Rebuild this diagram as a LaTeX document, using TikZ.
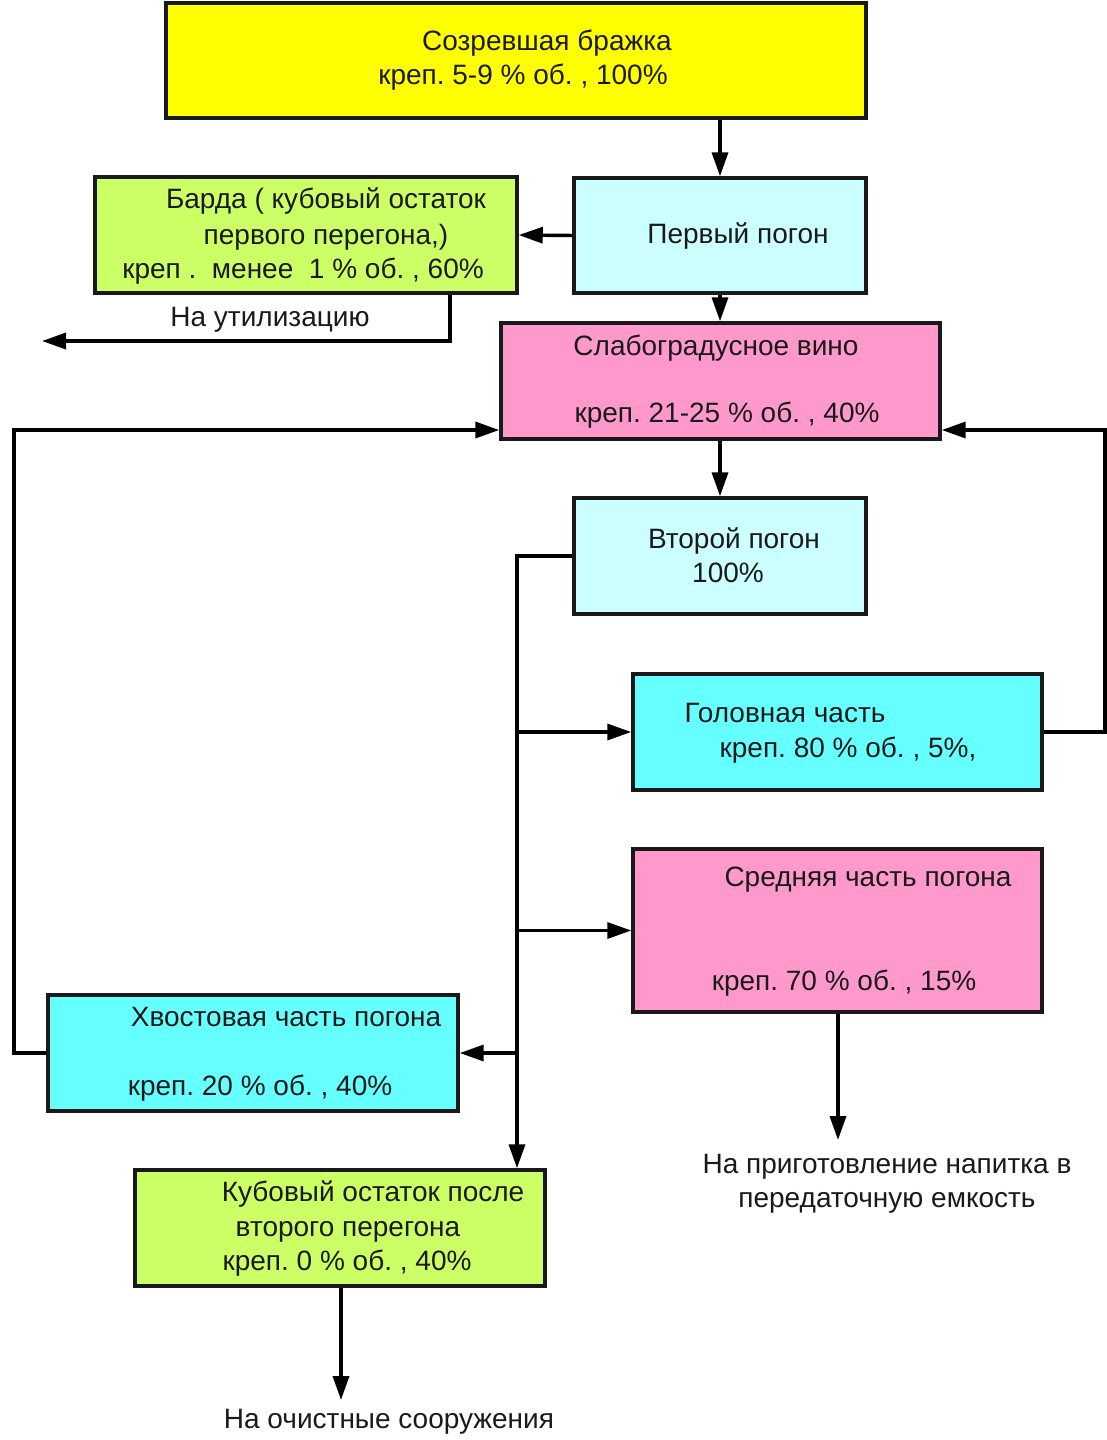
\documentclass[tikz,border=0pt]{standalone}
\usepackage{fontspec}
\setmainfont{Liberation Sans}
\usetikzlibrary{arrows.meta,fit}
\definecolor{cYel}{HTML}{FFFF00}
\definecolor{cLcy}{HTML}{CCFFFF}
\definecolor{cGrn}{HTML}{CCFF66}
\definecolor{cPnk}{HTML}{FF99CC}
\definecolor{cCyn}{HTML}{66FFFF}
\definecolor{cTxt}{HTML}{1A1A1A}
\frenchspacing
\begin{document}
\begin{tikzpicture}[x=0.75pt,y=-0.75pt,
  box/.style={draw=black!90,line width=2.6pt,inner sep=0pt},
  lbl/.style={anchor=mid,inner sep=0pt,yshift=-3.5pt,text=cTxt,font=\fontsize{21}{25}\selectfont},
  arr/.style={line width=2.6pt,-{Triangle[length=18pt,width=12pt]}},
  ln/.style={line width=2.6pt}]
\useasboundingbox[fill=white] (0,0) rectangle (1107,1440);
% boxes
\node[box,fill=cYel,fit={(166,3)(866,118)}] (yb) {};
\node[box,fill=cLcy,fit={(574,178)(866,293)}] (pp) {};
\node[box,fill=cGrn,fit={(95,177)(517,293)}] (bd) {};
\node[box,fill=cPnk,fit={(501,323)(940,439)}] (sv) {};
\node[box,fill=cLcy,fit={(574,498)(866,614)}] (vp) {};
\node[box,fill=cCyn,fit={(633,674)(1042,790)}] (gc) {};
\node[box,fill=cPnk,fit={(633,849)(1042,1012)}] (sc) {};
\node[box,fill=cCyn,fit={(48,995)(458,1111)}] (hv) {};
\node[box,fill=cGrn,fit={(135,1170)(545,1286)}] (ko) {};
% texts
\node[lbl] (yb1) at (547,42) {Созревшая бражка};
\node[lbl] (yb2) at (523,76) {креп. 5-9 \% об. , 100\%};
\node[lbl] (pp1) at (738,235) {Первый погон};
\node[lbl] (bd1) at (326,200) {Барда ( кубовый остаток};
\node[lbl] (bd2) at (326,236) {первого перегона,)};
\node[lbl] (bd3) at (303,270) {креп .~ менее~ 1 \% об. , 60\%};
\node[lbl] (ut) at (270,318) {На утилизацию};
\node[lbl] (sv1) at (716,347) {Слабоградусное вино};
\node[lbl] (sv2) at (727,414) {креп. 21-25 \% об. , 40\%};
\node[lbl] (vp1) at (734,540) {Второй погон};
\node[lbl] (vp2) at (728,574) {100\%};
\node[lbl] (gc1) at (785,714) {Головная часть};
\node[lbl] (gc2) at (848,749) {креп. 80 \% об. , 5\%,};
\node[lbl] (sc1) at (868,878) {Средняя часть погона};
\node[lbl] (sc2) at (844,982) {креп. 70 \% об. , 15\%};
\node[lbl] (np1) at (887,1165) {На приготовление напитка в};
\node[lbl] (np2) at (887,1199) {передаточную емкость};
\node[lbl] (hv1) at (286,1018) {Хвостовая часть погона};
\node[lbl] (hv2) at (260,1087) {креп. 20 \% об. , 40\%};
\node[lbl] (ko1) at (373,1193) {Кубовый остаток после};
\node[lbl] (ko2) at (348,1228) {второго перегона};
\node[lbl] (ko3) at (347,1262) {креп. 0 \% об. , 40\%};
\node[lbl] (oc) at (389,1420) {На очистные сооружения};
% free ends and corners
\coordinate (butil) at (450,341);
\coordinate (util) at (42,341);
\coordinate (ll) at (14,430);
\coordinate (rr) at (1105,430);
\coordinate (tr) at (517,557);
\coordinate (sce) at (838,1140);
\coordinate (koe) at (341,1400);
% connectors
\draw[arr] (pp.north |- yb.south) -- (pp.north);
\draw[arr] (pp.west) -- (bd.east);
\draw[arr] (bd.south -| butil) -- (butil) -- (util);
\draw[arr] (pp.south) -- (pp.south |- sv.north);
\draw[arr] (sv.south -| vp.north) -- (vp.north);
\draw[arr] (hv.west) -| (ll) -- (ll -| sv.west);
\draw[arr] (gc.east) -| (rr) -- (rr -| sv.east);
\draw[arr] (vp.west) -- (vp.west -| tr) -- (tr |- ko.north);
\draw[arr] (tr |- gc.west) -- (gc.west);
\draw[arr] (tr |- sc.west) -- (sc.west);
\draw[arr] (tr |- hv.east) -- (hv.east);
\draw[arr] (sc.south -| sce) -- (sce);
\draw[arr] (ko.south -| koe) -- (koe);
\end{tikzpicture}
\end{document}
